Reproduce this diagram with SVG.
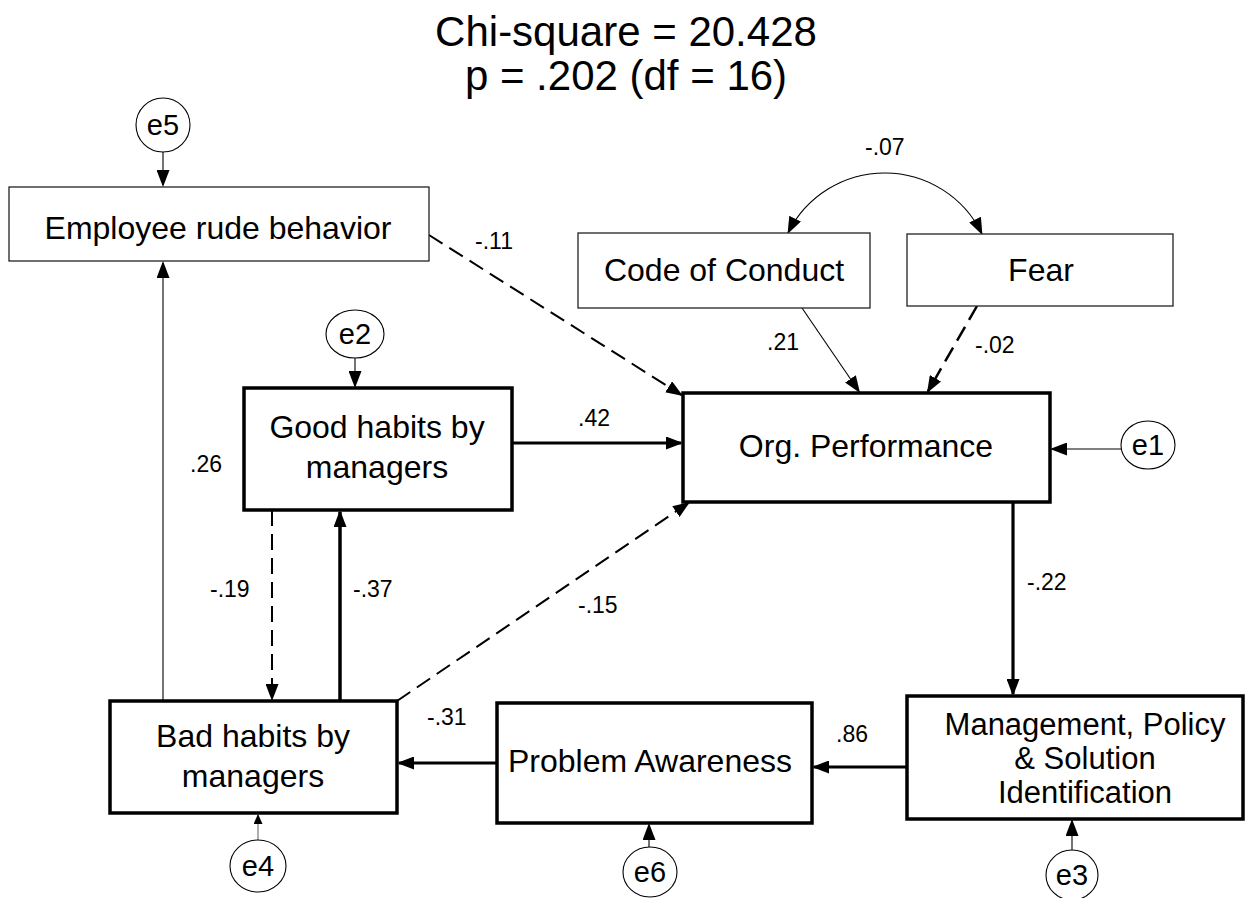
<svg xmlns="http://www.w3.org/2000/svg" width="1249" height="898" viewBox="0 0 1249 898">
<style>
  text { font-family: "Liberation Sans", Arial, sans-serif; fill: #000; }
  .t { font-size: 32px; text-anchor: middle; }
  .ttl { font-size: 42px; text-anchor: middle; }
  .lbl { font-size: 23px; }
  .el { font-size: 29px; text-anchor: middle; }
  .thin { fill: #fff; stroke: #222; stroke-width: 1.3; }
  .thick { fill: #fff; stroke: #000; stroke-width: 3.5; }
  .ell { fill: #fff; stroke: #000; stroke-width: 1.1; }
  .c { fill: none; stroke: #000; marker-end: url(#ah); }
  .w1 { stroke-width: 1.1; }
  .w2 { stroke-width: 2; }
  .w3 { stroke-width: 3.2; }
  .d { stroke-dasharray: 16 8; }
</style>
<defs>
  <marker id="ah" markerUnits="userSpaceOnUse" markerWidth="17" markerHeight="13" viewBox="0 0 17 13" refX="15" refY="6.5" orient="auto">
    <path d="M0,0 L17,6.5 L0,13 z" fill="#000"/>
  </marker>
  <marker id="ahs" markerUnits="userSpaceOnUse" markerWidth="10" markerHeight="9" viewBox="0 0 10 9" refX="9" refY="4.5" orient="auto">
    <path d="M0,0 L10,4.5 L0,9 z" fill="#000"/>
  </marker>
  <marker id="ahb" markerUnits="userSpaceOnUse" markerWidth="17" markerHeight="13" viewBox="0 0 17 13" refX="16" refY="6.5" orient="auto-start-reverse">
    <path d="M0,0 L17,6.5 L0,13 z" fill="#000"/>
  </marker>
</defs>

<g id="title">
  <text class="ttl" x="626" y="46">Chi-square = 20.428</text>
  <text class="ttl" x="626" y="90">p = .202 (df = 16)</text>
</g>

<g id="connectors">
  <line class="c w1" x1="163" y1="152" x2="163" y2="185"/>
  <line class="c w1" x1="163" y1="701" x2="163" y2="263"/>
  <line class="c w1" x1="355" y1="358" x2="355" y2="386"/>
  <line class="c w2 d" x1="429" y1="235" x2="681.3" y2="394.9"/>
  <line class="c w3" x1="512" y1="443" x2="681" y2="443"/>
  <line class="c w1" x1="802" y1="308" x2="858.9" y2="391.3"/>
  <line class="c d" style="stroke-width:2.5" x1="977" y1="306" x2="928" y2="391.3"/>
  <path d="M788,233 A108,108 0 0 1 982,234" fill="none" stroke="#000" stroke-width="1.1" marker-start="url(#ahb)" marker-end="url(#ahb)"/>
  <line class="c w1" x1="1121" y1="449" x2="1052" y2="449"/>
  <line class="c w3" x1="1013" y1="502" x2="1013" y2="694"/>
  <line class="c w3" x1="912" y1="767" x2="814" y2="767"/>
  <line class="c w3" x1="497" y1="763" x2="399" y2="763"/>
  <line class="c w2 d" x1="397" y1="701" x2="688.3" y2="503.1"/>
  <line class="c w2 d" x1="272" y1="510" x2="272" y2="699"/>
  <line class="c" style="stroke-width:3.5" x1="340" y1="701" x2="340" y2="512"/>
  <line x1="258" y1="840" x2="258" y2="815" stroke="#777" stroke-width="1.2" marker-end="url(#ahs)"/>
  <line class="c w1" x1="649" y1="847" x2="649" y2="825"/>
  <line class="c w1" x1="1072" y1="850" x2="1072" y2="821"/>
</g>

<g id="labels">
  <text class="lbl" x="475" y="249">-.11</text>
  <text class="lbl" x="865" y="155">-.07</text>
  <text class="lbl" x="767" y="350">.21</text>
  <text class="lbl" x="975" y="353">-.02</text>
  <text class="lbl" x="578" y="426">.42</text>
  <text class="lbl" x="190" y="472">.26</text>
  <text class="lbl" x="210" y="597">-.19</text>
  <text class="lbl" x="353" y="597">-.37</text>
  <text class="lbl" x="578" y="613">-.15</text>
  <text class="lbl" x="1027" y="590">-.22</text>
  <text class="lbl" x="427" y="725">-.31</text>
  <text class="lbl" x="836" y="742">.86</text>
</g>

<g id="node-e5">
  <ellipse class="ell" cx="163" cy="125" rx="27" ry="27"/>
  <text class="el" x="163" y="135">e5</text>
</g>
<g id="node-employee-rude-behavior">
  <rect class="thin" x="9" y="187" width="420" height="74"/>
  <text class="t" x="218" y="239">Employee rude behavior</text>
</g>
<g id="node-code-of-conduct">
  <rect class="thin" x="578" y="233" width="292" height="75"/>
  <text class="t" x="724" y="281">Code of Conduct</text>
</g>
<g id="node-fear">
  <rect class="thin" x="907" y="234" width="266" height="72"/>
  <text class="t" x="1041" y="281">Fear</text>
</g>
<g id="node-e2">
  <ellipse class="ell" cx="355" cy="334" rx="29" ry="24"/>
  <text class="el" x="355" y="344">e2</text>
</g>
<g id="node-good-habits">
  <rect class="thick" x="244" y="388" width="268" height="122"/>
  <text class="t" x="377" y="438">Good habits by</text>
  <text class="t" x="377" y="478">managers</text>
</g>
<g id="node-org-performance">
  <rect class="thick" x="683" y="393" width="367" height="109"/>
  <text class="t" x="866" y="457">Org. Performance</text>
</g>
<g id="node-e1">
  <ellipse class="ell" cx="1148" cy="445" rx="27" ry="24"/>
  <text class="el" x="1148" y="455">e1</text>
</g>
<g id="node-bad-habits">
  <rect class="thick" x="110" y="701" width="287" height="112"/>
  <text class="t" x="253" y="747">Bad habits by</text>
  <text class="t" x="253" y="787">managers</text>
</g>
<g id="node-e4">
  <ellipse class="ell" cx="258" cy="866" rx="28" ry="26"/>
  <text class="el" x="258" y="876">e4</text>
</g>
<g id="node-problem-awareness">
  <rect class="thick" x="497" y="703" width="315" height="120"/>
  <text class="t" x="650" y="772">Problem Awareness</text>
</g>
<g id="node-e6">
  <ellipse class="ell" cx="650" cy="872" rx="27" ry="25"/>
  <text class="el" x="650" y="882">e6</text>
</g>
<g id="node-management">
  <rect class="thick" x="907" y="696" width="336" height="123"/>
  <text class="t" x="1085" y="735" style="font-size:31px">Management, Policy</text>
  <text class="t" x="1085" y="769" style="font-size:31px">&amp; Solution</text>
  <text class="t" x="1085" y="803" style="font-size:31px">Identification</text>
</g>
<g id="node-e3">
  <ellipse class="ell" cx="1072" cy="875" rx="26" ry="25"/>
  <text class="el" x="1072" y="885">e3</text>
</g>
</svg>
